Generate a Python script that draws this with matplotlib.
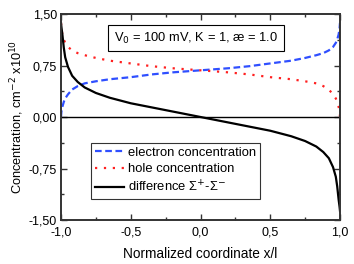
import matplotlib
matplotlib.use("Agg")
import matplotlib.pyplot as plt
from matplotlib.ticker import MultipleLocator, FuncFormatter

plt.rcParams['font.family'] = ['Liberation Sans', 'DejaVu Sans']

x = [-1.0, -0.997, -0.99, -0.98, -0.97, -0.95, -0.92, -0.88, -0.83, -0.75, -0.65, -0.5, -0.35, -0.2, 0.0,
     0.2, 0.35, 0.5, 0.65, 0.75, 0.83, 0.88, 0.92, 0.95, 0.97, 0.98, 0.99, 0.997, 1.0]
electron = [0.0, 0.08, 0.15, 0.22, 0.27, 0.33, 0.40, 0.45, 0.49, 0.52, 0.55, 0.58, 0.62, 0.65, 0.68,
            0.71, 0.74, 0.78, 0.82, 0.86, 0.90, 0.93, 0.97, 1.02, 1.08, 1.13, 1.20, 1.29, 1.37]
hole = [1.37, 1.29, 1.20, 1.13, 1.08, 1.02, 0.97, 0.93, 0.90, 0.86, 0.82, 0.78, 0.74, 0.71, 0.68,
        0.65, 0.62, 0.58, 0.55, 0.52, 0.49, 0.45, 0.40, 0.33, 0.27, 0.22, 0.15, 0.08, 0.0]
difference = [1.37, 1.31, 1.20, 1.01, 0.87, 0.73, 0.60, 0.51, 0.43, 0.35, 0.28, 0.20, 0.14, 0.08, 0.0,
              -0.08, -0.14, -0.20, -0.28, -0.35, -0.43, -0.51, -0.60, -0.73, -0.87, -1.01, -1.20, -1.31, -1.37]

fig = plt.figure(figsize=(3.54, 2.64), dpi=100)
ax = fig.add_axes([61/354, 1 - 220/264, 279/354, 206/264])

ax.plot(x, electron, color='#2f4fff', lw=1.6, ls=(0, (3, 1.6)), label='electron concentration')
ax.plot(x, hole, color='#ff2020', lw=1.6, ls=(0, (1, 3)), label='hole concentration')
ax.plot(x, difference, color='black', lw=1.6, label='difference Σ$^{+}$-Σ$^{-}$')
ax.axhline(0, color='black', lw=1.0)

ax.set_xlim(-1.0, 1.0)
ax.set_ylim(-1.5, 1.5)
ax.xaxis.set_major_locator(MultipleLocator(0.5))
ax.xaxis.set_minor_locator(MultipleLocator(0.25))
ax.yaxis.set_major_locator(MultipleLocator(0.75))
ax.yaxis.set_minor_locator(MultipleLocator(0.375))
ax.xaxis.set_major_formatter(FuncFormatter(lambda v, p: f"{v:.1f}".replace('.', ',').replace('-0,0', '0,0')))
ax.yaxis.set_major_formatter(FuncFormatter(lambda v, p: f"{v:.2f}".replace('.', ',').replace('-0,00', '0,00')))
ax.tick_params(which='both', direction='in', top=True, right=True, labelsize=9, color='#333333')
ax.tick_params(which='major', length=4, width=1)
ax.tick_params(which='minor', length=2.5, width=1)
ax.tick_params(axis='x', pad=5)
ax.tick_params(axis='y', pad=3)
for s in ax.spines.values():
    s.set_linewidth(1.4)
    s.set_color('#333333')

ax.set_xlabel('Normalized coordinate x/l', fontsize=9.8, labelpad=6)
ax.set_ylabel('Concentration, cm$^{-2}$ x10$^{10}$', fontsize=9.2, labelpad=2)

ax.text(-0.03, 1.15, 'V$_{0}$ = 100 mV, K = 1, æ = 1.0', fontsize=9.3, ha='center', va='center',
        bbox=dict(boxstyle='square,pad=0.45', fc='white', ec='black', lw=0.8))

leg = ax.legend(loc='upper left', bbox_to_anchor=(30/279, 1 - 129/206), fontsize=9.4,
                frameon=True, fancybox=False, edgecolor='black', handlelength=2.2,
                handletextpad=0.35, borderpad=0.3, labelspacing=0.32, borderaxespad=0)
leg.get_frame().set_linewidth(0.8)

fig.savefig('out.png', dpi=100)
